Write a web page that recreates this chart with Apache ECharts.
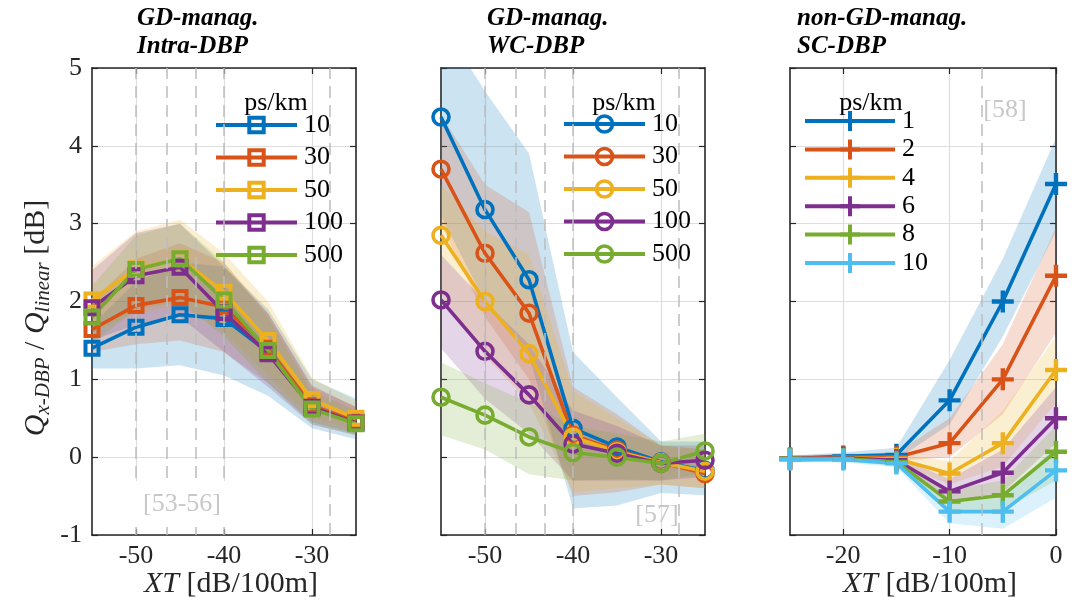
<!DOCTYPE html>
<html>
<head>
    <meta charset="utf-8">
    <title>Q x-DBP / Q linear vs XT</title>
    <script src="https://cdn.jsdelivr.net/npm/echarts@6.0.0/dist/echarts.min.js"></script>
    <style>
        html, body { margin: 0; padding: 0; background: #fff; }
        #chart { width: 1077px; height: 611px; }
    </style>
</head>
<body>
<div id="chart"></div>
<script>
    // x values
    var xGD = [-55, -50, -45, -40, -35, -30, -25];
    var xSC = [-25, -20, -15, -10, -5, 0];

    // panel 1: GD-manag. Intra-DBP
    var intra10 = [1.40, 1.67, 1.83, 1.78, 1.35, 0.64, 0.44];
    var intra30 = [1.64, 1.95, 2.05, 1.93, 1.40, 0.66, 0.46];
    var intra50 = [2.02, 2.42, 2.55, 2.12, 1.50, 0.74, 0.50];
    var intra100 = [1.92, 2.33, 2.44, 1.86, 1.33, 0.64, 0.44];
    var intra500 = [1.80, 2.41, 2.55, 2.02, 1.37, 0.62, 0.43];
    var intra10Lo = [1.14, 1.14, 1.18, 1.05, 0.79, 0.37, 0.23];
    var intra10Hi = [1.70, 2.25, 2.50, 2.45, 1.90, 1.00, 0.75];
    var intra30Lo = [1.35, 1.45, 1.50, 1.35, 0.95, 0.45, 0.30];
    var intra30Hi = [2.00, 2.55, 2.75, 2.50, 1.85, 0.90, 0.65];
    var intra50Lo = [1.60, 1.85, 1.95, 1.60, 1.05, 0.50, 0.35];
    var intra50Hi = [2.45, 2.90, 3.05, 2.62, 2.00, 1.02, 0.72];
    var intra100Lo = [1.50, 1.70, 1.80, 1.35, 0.90, 0.42, 0.28];
    var intra100Hi = [2.40, 2.88, 3.00, 2.45, 1.85, 0.92, 0.64];
    var intra500Lo = [1.45, 1.90, 2.00, 1.55, 0.95, 0.42, 0.28];
    var intra500Hi = [2.20, 2.85, 3.00, 2.50, 1.80, 0.85, 0.60];

    // panel 2: GD-manag. WC-DBP
    var wc10 = [4.37, 3.18, 2.28, 0.37, 0.13, -0.06, -0.17];
    var wc30 = [3.70, 2.62, 1.85, 0.28, 0.09, -0.07, -0.21];
    var wc50 = [2.85, 2.00, 1.33, 0.26, 0.07, -0.07, -0.18];
    var wc100 = [2.02, 1.36, 0.80, 0.17, 0.05, -0.08, -0.04];
    var wc500 = [0.77, 0.54, 0.26, 0.06, 0.00, -0.08, 0.08];
    var wc10Lo = [3.10, 2.00, 1.30, -0.66, -0.62, -0.46, -0.49];
    var wc10Hi = [5.60, 4.70, 3.90, 1.35, 0.77, 0.20, 0.20];
    var wc30Lo = [3.00, 1.80, 1.00, -0.50, -0.45, -0.35, -0.40];
    var wc30Hi = [4.40, 3.50, 3.15, 0.90, 0.55, 0.15, 0.10];
    var wc50Lo = [2.10, 1.30, 0.70, -0.45, -0.40, -0.35, -0.40];
    var wc50Hi = [3.50, 2.90, 2.60, 0.85, 0.50, 0.15, 0.10];
    var wc100Lo = [1.40, 0.75, 0.30, -0.30, -0.30, -0.30, -0.25];
    var wc100Hi = [2.60, 2.00, 1.45, 0.60, 0.40, 0.15, 0.15];
    var wc500Lo = [0.28, 0.10, -0.22, -0.30, -0.28, -0.30, -0.20];
    var wc500Hi = [1.22, 0.95, 0.70, 0.40, 0.30, 0.20, 0.30];

    // panel 3: non-GD-manag. SC-DBP
    var sc1 = [-0.02, 0.01, 0.03, 0.73, 2.00, 3.51];
    var sc2 = [-0.02, 0.00, 0.00, 0.18, 1.00, 2.33];
    var sc4 = [-0.02, -0.01, -0.02, -0.21, 0.18, 1.12];
    var sc6 = [-0.02, -0.01, -0.04, -0.44, -0.20, 0.50];
    var sc8 = [-0.02, -0.02, -0.06, -0.57, -0.49, 0.07];
    var sc10 = [-0.03, -0.03, -0.08, -0.70, -0.70, -0.17];
    var sc1Lo = [-0.06, -0.04, -0.03, 0.42, 1.55, 2.90];
    var sc1Hi = [0.02, 0.06, 0.12, 1.25, 2.55, 4.10];
    var sc2Lo = [-0.06, -0.04, -0.05, 0.00, 0.55, 1.60];
    var sc2Hi = [0.02, 0.04, 0.06, 0.50, 1.45, 2.95];
    var sc4Lo = [-0.06, -0.05, -0.07, -0.35, -0.12, 0.70];
    var sc4Hi = [0.02, 0.03, 0.03, -0.05, 0.60, 1.55];
    var sc6Lo = [-0.06, -0.05, -0.09, -0.60, -0.45, 0.18];
    var sc6Hi = [0.02, 0.03, 0.01, -0.28, 0.10, 0.90];
    var sc8Lo = [-0.06, -0.06, -0.11, -0.72, -0.68, -0.30];
    var sc8Hi = [0.02, 0.02, 0.00, -0.42, -0.30, 0.40];
    var sc10Lo = [-0.07, -0.07, -0.13, -0.85, -0.92, -0.52];
    var sc10Hi = [0.01, 0.01, -0.03, -0.58, -0.52, 0.15];

    // ticks and reference lines
    var gdTicks = [-50, -40, -30];
    var scTicks = [-20, -10, 0];
    var gdRefLines = [-50, -46.5, -43.2, -40, -28];
    var scRefLines = [-7];

    var colors = ['#0072BD', '#D95319', '#EDB120', '#7E2F8E', '#77AC30', '#4DBEEE'];
    var serif = 'Liberation Serif';
    var ink = '#262626';

    var plusPath = 'path://M4,0H6V4H10V6H6V10H4V6H0V4H4Z';

    function hexA(hex, a) {
        var r = parseInt(hex.slice(1, 3), 16), g = parseInt(hex.slice(3, 5), 16), b = parseInt(hex.slice(5, 7), 16);
        return 'rgba(' + r + ',' + g + ',' + b + ',' + a + ')';
    }

    function bandSeries(gi, xs, lo, hi, color) {
        return {
            type: 'custom', xAxisIndex: gi, yAxisIndex: gi, clip: true, silent: true, z: 1,
            data: xs.map(function (x, i) { return [x, lo[i], hi[i]]; }),
            renderItem: function (params, api) {
                if (params.dataIndex !== 0) return null;
                var pts = [];
                for (var i = 0; i < xs.length; i++) pts.push(api.coord([xs[i], hi[i]]));
                for (var j = xs.length - 1; j >= 0; j--) pts.push(api.coord([xs[j], lo[j]]));
                return { type: 'polygon', shape: { points: pts }, style: { fill: hexA(color, 0.2) } };
            }
        };
    }

    function lineSeries(gi, name, xs, ys, color, kind) {
        var s = {
            type: 'line', name: name, xAxisIndex: gi, yAxisIndex: gi, z: 3,
            data: xs.map(function (x, i) { return [x, ys[i]]; }),
            lineStyle: { color: color, width: 3.6 },
            emphasis: { disabled: true }
        };
        if (kind === 'rect') {
            s.symbol = 'rect'; s.symbolSize = 13;
            s.itemStyle = { color: 'transparent', borderColor: color, borderWidth: 4 };
        } else if (kind === 'circle') {
            s.symbol = 'circle'; s.symbolSize = 16;
            s.itemStyle = { color: 'transparent', borderColor: color, borderWidth: 3.6 };
        } else {
            s.symbol = plusPath; s.symbolSize = 22;
            s.itemStyle = { color: color, borderWidth: 0 };
        }
        return s;
    }

    function refLines(gi, vals) {
        return {
            type: 'line', xAxisIndex: gi, yAxisIndex: gi, data: [], z: 0, silent: true,
            markLine: {
                silent: true, symbol: ['none', 'none'], label: { show: false },
                lineStyle: { color: '#bdbdbd', width: 1.5, type: [12, 7] },
                data: vals.map(function (v) { return { xAxis: v }; })
            }
        };
    }

    var grids = [
        { left: 92, top: 68, width: 264, height: 467 },
        { left: 441, top: 68, width: 264, height: 467 },
        { left: 790, top: 68, width: 266, height: 467 }
    ];

    function xAxisFor(gi, min, max, ticks, top) {
        return {
            type: 'value', gridIndex: gi, min: min, max: max, position: top ? 'top' : 'bottom',
            axisLine: { show: true, onZero: false, lineStyle: { color: ink, width: 1.6 } },
            axisTick: { show: true, inside: true, length: 6, customValues: ticks, lineStyle: { color: ink, width: 1.2 } },
            axisLabel: { show: !top, customValues: ticks, margin: 8, fontFamily: serif, fontSize: 26, color: ink },
            splitLine: { show: !top, lineStyle: { color: '#dedede', width: 1.2 } }
        };
    }

    function yAxisFor(gi, labels, right) {
        return {
            type: 'value', gridIndex: gi, min: -1, max: 5, interval: 1, position: right ? 'right' : 'left',
            axisLine: { show: true, onZero: false, lineStyle: { color: ink, width: 1.6 } },
            axisTick: { show: true, inside: true, length: 6, lineStyle: { color: ink, width: 1.2 } },
            axisLabel: { show: labels && !right, margin: 10, fontFamily: serif, fontSize: 26, color: ink },
            splitLine: { show: !right, lineStyle: { color: '#dedede', width: 1.2 } }
        };
    }

    var series = [
        refLines(0, gdRefLines), refLines(1, gdRefLines), refLines(2, scRefLines),
        bandSeries(0, xGD, intra10Lo, intra10Hi, colors[0]),
        bandSeries(0, xGD, intra30Lo, intra30Hi, colors[1]),
        bandSeries(0, xGD, intra50Lo, intra50Hi, colors[2]),
        bandSeries(0, xGD, intra100Lo, intra100Hi, colors[3]),
        bandSeries(0, xGD, intra500Lo, intra500Hi, colors[4]),
        lineSeries(0, 'i10', xGD, intra10, colors[0], 'rect'),
        lineSeries(0, 'i30', xGD, intra30, colors[1], 'rect'),
        lineSeries(0, 'i50', xGD, intra50, colors[2], 'rect'),
        lineSeries(0, 'i100', xGD, intra100, colors[3], 'rect'),
        lineSeries(0, 'i500', xGD, intra500, colors[4], 'rect'),
        bandSeries(1, xGD, wc10Lo, wc10Hi, colors[0]),
        bandSeries(1, xGD, wc30Lo, wc30Hi, colors[1]),
        bandSeries(1, xGD, wc50Lo, wc50Hi, colors[2]),
        bandSeries(1, xGD, wc100Lo, wc100Hi, colors[3]),
        bandSeries(1, xGD, wc500Lo, wc500Hi, colors[4]),
        lineSeries(1, 'w10', xGD, wc10, colors[0], 'circle'),
        lineSeries(1, 'w30', xGD, wc30, colors[1], 'circle'),
        lineSeries(1, 'w50', xGD, wc50, colors[2], 'circle'),
        lineSeries(1, 'w100', xGD, wc100, colors[3], 'circle'),
        lineSeries(1, 'w500', xGD, wc500, colors[4], 'circle'),
        bandSeries(2, xSC, sc1Lo, sc1Hi, colors[0]),
        bandSeries(2, xSC, sc2Lo, sc2Hi, colors[1]),
        bandSeries(2, xSC, sc4Lo, sc4Hi, colors[2]),
        bandSeries(2, xSC, sc6Lo, sc6Hi, colors[3]),
        bandSeries(2, xSC, sc8Lo, sc8Hi, colors[4]),
        bandSeries(2, xSC, sc10Lo, sc10Hi, colors[5]),
        lineSeries(2, 's1', xSC, sc1, colors[0], 'plus'),
        lineSeries(2, 's2', xSC, sc2, colors[1], 'plus'),
        lineSeries(2, 's4', xSC, sc4, colors[2], 'plus'),
        lineSeries(2, 's6', xSC, sc6, colors[3], 'plus'),
        lineSeries(2, 's8', xSC, sc8, colors[4], 'plus'),
        lineSeries(2, 's10', xSC, sc10, colors[5], 'plus')
    ];

    function legendFor(left, top, names, itemWidth, itemHeight, gap, border) {
        return {
            orient: 'vertical', left: left, top: top, padding: 0,
            itemWidth: itemWidth, itemHeight: itemHeight, itemGap: gap,
            selectedMode: false, data: names,
            itemStyle: { borderWidth: border },
            lineStyle: { width: 4 },
            formatter: function (n) { return n.slice(1); },
            textStyle: { fontFamily: serif, fontSize: 26, lineHeight: 26, color: '#000', padding: [0, 0, 0, 2] }
        };
    }

    function txt(x, y, text, size, extra) {
        var style = { x: 0, y: 0, text: text, fontFamily: serif, fontSize: size, fill: ink, align: 'left', verticalAlign: 'middle' };
        for (var k in extra) style[k] = extra[k];
        return { type: 'text', x: x, y: y, z: 100, style: style };
    }

    var richLabel = {
        q: { fontFamily: serif, fontStyle: 'italic', fontSize: 30, lineHeight: 36, fill: ink },
        s: { fontFamily: serif, fontStyle: 'italic', fontSize: 21, lineHeight: 22, verticalAlign: 'bottom', fill: ink },
        n: { fontFamily: serif, fontSize: 30, lineHeight: 36, fill: ink }
    };

    var titleStyle = { fontStyle: 'italic', fontWeight: 'bold', fill: '#000' };

    var graphics = [
        txt(137, 19, 'GD-manag.', 25, titleStyle),
        txt(137, 47, 'Intra-DBP', 25, titleStyle),
        txt(487, 19, 'GD-manag.', 25, titleStyle),
        txt(487, 47, 'WC-DBP', 25, titleStyle),
        txt(797, 19, 'non-GD-manag.', 25, titleStyle),
        txt(797, 47, 'SC-DBP', 25, titleStyle),
        txt(276, 103, 'ps/km', 26, { align: 'center', fill: '#000' }),
        txt(624, 103, 'ps/km', 26, { align: 'center', fill: '#000' }),
        txt(871, 103, 'ps/km', 26, { align: 'center', fill: '#000' }),
        txt(182, 504, '[53-56]', 26, { align: 'center', fill: '#c8c8c8', backgroundColor: '#fff', padding: [10, 9, 10, 9] }),
        txt(657, 515, '[57]', 26, { align: 'center', fill: '#c8c8c8' }),
        txt(1005, 110, '[58]', 26, { align: 'center', fill: '#c8c8c8' }),
        txt(231, 584, '{q|XT}{n| [dB/100m]}', 30, { align: 'center', rich: richLabel }),
        txt(930, 584, '{q|XT}{n| [dB/100m]}', 30, { align: 'center', rich: richLabel }),
        {
            type: 'text', x: 36, y: 318, rotation: Math.PI / 2, z: 100,
            style: {
                text: '{q|Q}{s|x-DBP}{n| / }{q|Q}{s|linear}{n| [dB]}',
                align: 'center', verticalAlign: 'middle', rich: richLabel
            }
        }
    ];

    var option = {
        animation: false,
        backgroundColor: '#fff',
        grid: grids,
        xAxis: [
            xAxisFor(0, -55, -25, gdTicks, false),
            xAxisFor(1, -55, -25, gdTicks, false),
            xAxisFor(2, -25, 0, scTicks, false),
            xAxisFor(0, -55, -25, gdTicks, true),
            xAxisFor(1, -55, -25, gdTicks, true),
            xAxisFor(2, -25, 0, scTicks, true)
        ],
        yAxis: [
            yAxisFor(0, true, false),
            yAxisFor(1, false, false),
            yAxisFor(2, false, false),
            yAxisFor(0, false, true),
            yAxisFor(1, false, true),
            yAxisFor(2, false, true)
        ],
        legend: [
            legendFor(214, 112, ['i10', 'i30', 'i50', 'i100', 'i500'], 81, 18, 6.5, 4),
            legendFor(562, 111, ['w10', 'w30', 'w50', 'w100', 'w500'], 81, 20, 6.5, 3.6),
            legendFor(803, 108, ['s1', 's2', 's4', 's6', 's8', 's10'], 90, 25, 2.4, 0)
        ],
        graphic: graphics,
        series: series
    };

    var chart = echarts.init(document.getElementById('chart'));
    chart.setOption(option);
</script>
</body>
</html>
